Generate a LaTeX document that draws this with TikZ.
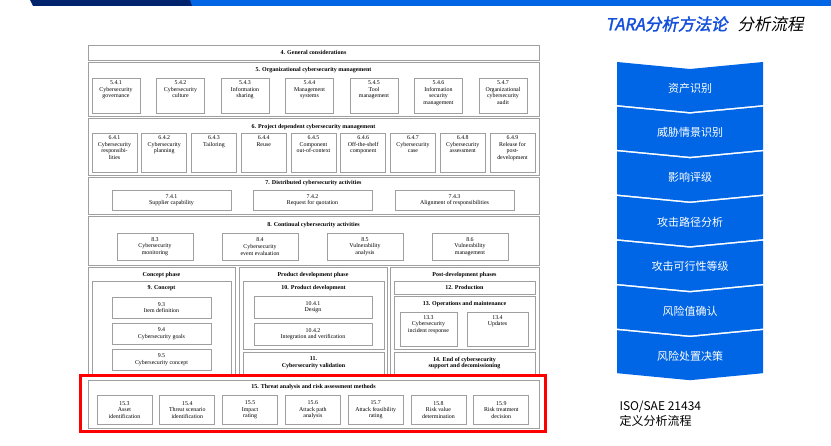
\documentclass[tikz,border=0pt]{standalone}
\usepackage{fontspec}
\setmainfont{Liberation Serif}
\newfontfamily\cjk{Noto Sans CJK SC}
\newfontfamily\cjkit[FakeSlant=0.2]{Noto Sans CJK SC}
\newfontfamily\cjkbf[FakeSlant=0.2,FakeBold=2]{Noto Sans CJK SC}
\usetikzlibrary{positioning}
\definecolor{chevblue}{RGB}{0,102,230}
\definecolor{navy}{RGB}{0,35,110}
\definecolor{titleblue}{RGB}{20,80,220}
\tikzset{
  frame/.style={draw=gray!75,line width=0.9pt},
  sub/.style={draw=gray!75,line width=0.7pt,align=center,inner sep=0pt,
    font=\fontsize{5.9}{6.6}\selectfont},
  ttl/.style={font=\fontsize{6}{6.8}\selectfont\bfseries,align=center,inner sep=0pt},
  chev/.style={text=white,font=\cjk\fontsize{11}{13}\selectfont}
}
\begin{document}
\begin{tikzpicture}[x=1pt,y=-1pt]
    \useasboundingbox (0,0) rectangle (831,446);

    % top band
    \fill[chevblue] (190,0) rectangle (831,6);
    \fill[navy] (30,0) -- (190,0) -- (192,6) -- (33,6) -- cycle;

    % heading
    \node[anchor=east,text=titleblue,font=\cjkbf\fontsize{16.5}{18}\selectfont] (head) at (731,24) {TARA分析方法论};
    \node[anchor=west,font=\cjkit\fontsize{16.5}{18}\selectfont] (head2) at (head.east) {\hspace{3pt}分析流程};

    % 4
    \draw[frame] (88,45) rectangle (539,60);
    \node[ttl] (g4) at (313.5,52.5) {4. General considerations};

    % 5
    \draw[frame] (88,62) rectangle (539,116);
    \node[ttl] (g5) at (313.5,70) {5. Organizational cybersecurity management};
    \foreach \t [count=\i from 0] in {{5.4.1\\Cybersecurity\\governance},{5.4.2\\Cybersecurity\\culture},
        {5.4.3\\Information\\sharing},{5.4.4\\Management\\systems},{5.4.5\\Tool\\management},
        {5.4.6\\Information\\security\\management},{5.4.7\\Organizational\\cybersecurity\\audit}}
    {
      \node[sub,minimum width=48pt,minimum height=35pt] (s5-\i) at ({116+\i*64.5},95.5) {};
      \node[sub,draw=none,anchor=north] (t5-\i) at ({116+\i*64.5},80.5) {\t};
    }

    % 6
    \draw[frame] (88,118) rectangle (539,175);
    \node[ttl] (g6) at (313.5,127) {6. Project dependent cybersecurity management};
    \foreach \t [count=\i from 0] in {{6.4.1\\Cybersecurity\\responsibi-\\lities},{6.4.2\\Cybersecurity\\planning},
        {6.4.3\\Tailoring},{6.4.4\\Reuse},{6.4.5\\Component\\out-of-context},{6.4.6\\Off-the-shelf\\component},
        {6.4.7\\Cybersecurity\\case},{6.4.8\\Cybersecurity\\assessment},{6.4.9\\Release for\\post-\\development}}
    {
      \node[sub,minimum width=45pt,minimum height=39pt] (s6-\i) at ({114.5+\i*49.75},152.5) {};
      \node[sub,draw=none,anchor=north] (t6-\i) at ({114.5+\i*49.75},135.5) {\t};
    }

    % 7
    \draw[frame] (88,177) rectangle (539,214);
    \node[ttl] (g7) at (313.5,183) {7. Distributed cybersecurity activities};
    \node[sub,minimum width=119pt,minimum height=20pt] (s7-1) at (171.5,200) {7.4.1\\Supplier capability};
    \node[sub,minimum width=119pt,minimum height=20pt] (s7-2) at (312.5,200) {7.4.2\\Request for quotation};
    \node[sub,minimum width=119pt,minimum height=20pt] (s7-3) at (454.5,200) {7.4.3\\Alignment of responsibilities};

    % 8
    \draw[frame] (88,216) rectangle (539,265);
    \node[ttl] (g8) at (313.5,225) {8. Continual cybersecurity activities};
    \node[sub,minimum width=76pt,minimum height=27pt] (s8-1) at (155,246.5) {8.3\\Cybersecurity\\monitoring};
    \node[sub,minimum width=76pt,minimum height=27pt] (s8-2) at (260,246.5) {8.4\\Cybersecurity\\event evaluation};
    \node[sub,minimum width=76pt,minimum height=27pt] (s8-3) at (365,246.5) {8.5\\Vulnerability\\analysis};
    \node[sub,minimum width=76pt,minimum height=27pt] (s8-4) at (470,246.5) {8.6\\Vulnerability\\management};

    % phases
    \draw[frame] (88,267) rectangle (235,374);
    \draw[frame] (239,267) rectangle (387,374);
    \draw[frame] (390,267) rectangle (539,374);
    \node[ttl] (p1) at (161.5,275) {Concept phase};
    \node[ttl] (p2) at (313,275) {Product development phase};
    \node[ttl] (p3) at (464.5,275) {Post-development phases};

    % concept
    \draw[frame] (92,281) rectangle (231,374);
    \node[ttl] (g9) at (161.5,288) {9. Concept};
    \node[sub,minimum width=99pt,minimum height=21pt] (s9-3) at (161.5,307.5) {9.3\\Item definition};
    \node[sub,minimum width=99pt,minimum height=21pt] (s9-4) at (161.5,333.5) {9.4\\Cybersecurity goals};
    \node[sub,minimum width=99pt,minimum height=21pt] (s9-5) at (161.5,359.5) {9.5\\Cybersecurity concept};

    % product development
    \draw[frame] (243,281) rectangle (384,349);
    \node[ttl] (g10) at (313.5,288) {10. Product development};
    \node[sub,minimum width=118pt,minimum height=22pt] (s10-1) at (313,307) {10.4.1\\Design};
    \node[sub,minimum width=118pt,minimum height=22pt] (s10-2) at (313,334) {10.4.2\\Integration and verification};
    \draw[frame] (243,352) rectangle (384,374);
    \node[ttl] (g11) at (313.5,363) {11.\\Cybersecurity validation};

    % post development
    \draw[frame] (394,281) rectangle (535,294);
    \node[ttl] (g12) at (464.5,287.5) {12. Production};
    \draw[frame] (394,296) rectangle (535,349);
    \node[ttl] (g13) at (464.5,304) {13. Operations and maintenance};
    \node[sub,anchor=north,minimum width=57pt,minimum height=34pt] (s13-3) at (428.5,312) {};
    \node[sub,draw=none,anchor=north] (t13-3) at (428.5,315) {13.3\\Cybersecurity\\incident response};
    \node[sub,anchor=north,minimum width=61pt,minimum height=34pt] (s13-4) at (497.5,312) {};
    \node[sub,draw=none,anchor=north] (t13-4) at (497.5,315) {13.4\\Updates};
    \draw[frame] (394,352) rectangle (535,374);
    \node[ttl] (g14) at (464.5,363) {14. End of cybersecurity\\support and decomissioning};

    % 15
    \draw[frame] (88,380) rectangle (539,428);
    \node[ttl] (g15) at (313.5,387) {15. Threat analysis and risk assessment methods};
    \foreach \t [count=\i from 0] in {{15.3\\Asset\\identification},{15.4\\Threat scenario\\identification},
        {15.5\\Impact\\rating},{15.6\\Attack path\\analysis},{15.7\\Attack feasibility\\rating},
        {15.8\\Risk value\\determination},{15.9\\Risk treatment\\decision}}
      \node[sub,minimum width=55pt,minimum height=29pt] (s15-\i) at ({124.5+\i*62.8},410) {\t};
    \draw[red,line width=3pt] (80,376) rectangle (545,432);

    % chevron steps
    \foreach \t [count=\i from 0] in {资产识别,威胁情景识别,影响评级,攻击路径分析,攻击可行性等级,风险值确认,风险处置决策}
    {
      \fill[chevblue] (617,{62+\i*44.7}) -- (690,{69+\i*44.7}) -- (763,{62+\i*44.7})
        -- (763,{105+\i*44.7}) -- (690,{112+\i*44.7}) -- (617,{105+\i*44.7}) -- cycle;
      \node[chev] (c\i) at (690,{88+\i*44.7}) {\t};
    }

    \node[anchor=north west,align=left,font=\cjk\fontsize{12}{15}\selectfont] (iso) at (616,397) {ISO/SAE 21434\\定义分析流程};
\end{tikzpicture}
\end{document}
